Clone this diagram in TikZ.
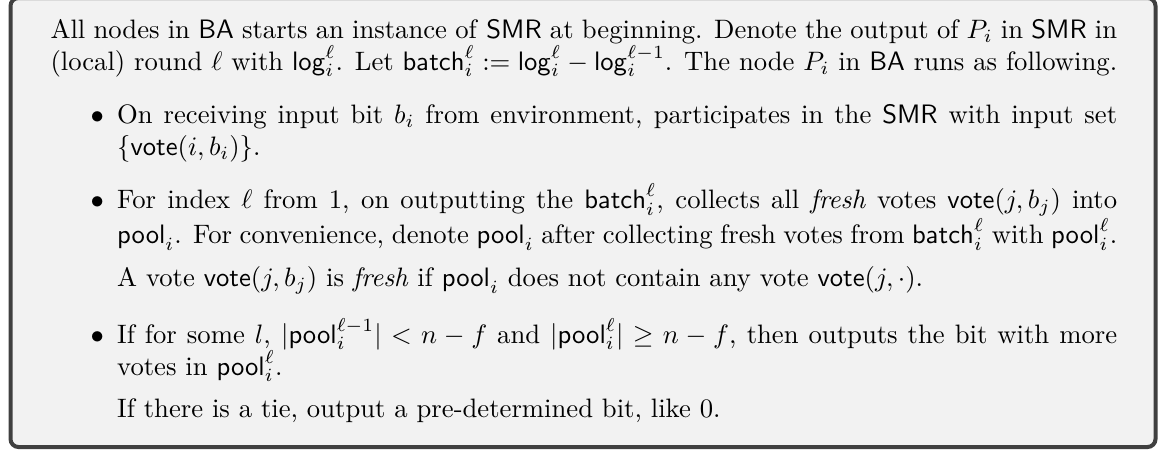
\documentclass[tikz,border=0pt]{standalone}
\usepackage{amsmath,amssymb}
\definecolor{framegray}{HTML}{404040}
\definecolor{boxback}{HTML}{F2F2F2}
\tikzset{
  boxframe/.style={draw=framegray, fill=boxback, line width=1.5pt, rounded corners=3pt},
  bodytext/.style={anchor=base west, inner sep=0pt, text width=400pt, align=justify, font=\normalsize}
}
\newcommand{\sff}[1]{\mathsf{#1}}
\renewcommand{\labelitemi}{$\bullet$}
\begin{document}
\begin{tikzpicture}[x=0.375pt,y=-0.375pt]
  \useasboundingbox (0,0) rectangle (1159,452);
  \clip (0,0) rectangle (1159,452);
  % framed panel
  \draw[boxframe] (10.5,-2) rectangle (1155.5,447);
  % protocol description
  \node[bodytext] (body) at (50,38) {%
    \setlength{\leftmargini}{25pt}%
    \setlength{\labelsep}{5pt}%
    All nodes in \textsf{BA} starts an instance of \textsf{SMR} at beginning. Denote the output of $P_i$ in \textsf{SMR} in (local) round $\ell$ with $\sff{log}_i^\ell$. Let $\sff{batch}_i^\ell := \sff{log}_i^\ell - \sff{log}_i^{\ell-1}$. The node $P_i$ in \textsf{BA} runs as following.
    \begin{itemize}
      \item On receiving input bit $b_i$ from environment, participates in the \textsf{SMR} with input set $\{\sff{vote}(i,b_i)\}$.
      \item For index $\ell$ from 1, on outputting the $\sff{batch}_i^\ell$, collects all \emph{fresh} votes $\sff{vote}(j,b_j)$ into $\sff{pool}_i$. For convenience, denote $\sff{pool}_i$ after collecting fresh votes from $\sff{batch}_i^\ell$ with $\sff{pool}_i^\ell$.

      A vote $\sff{vote}(j,b_j)$ is \emph{fresh} if $\sff{pool}_i$ does not contain any vote $\sff{vote}(j,\cdot)$.
      \item If for some $l$, $|\sff{pool}_i^{\ell-1}| < n-f$ and $|\sff{pool}_i^\ell| \geq n-f$, then outputs the bit with more votes in $\sff{pool}_i^\ell$.

      If there is a tie, output a pre-determined bit, like 0.
    \end{itemize}};
\end{tikzpicture}
\end{document}
